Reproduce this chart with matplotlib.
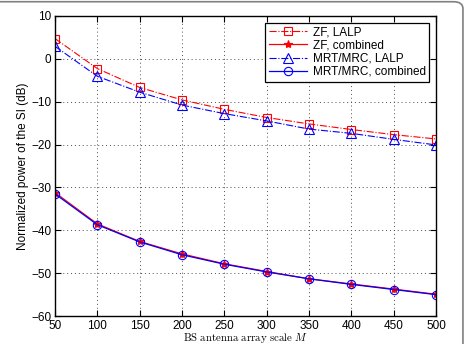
import matplotlib
matplotlib.use("Agg")
import matplotlib.pyplot as plt
from matplotlib.patches import FancyBboxPatch

plt.rcParams['font.family'] = ['Liberation Sans', 'DejaVu Sans']
plt.rcParams['mathtext.fontset'] = 'cm'

# data
M = [50, 100, 150, 200, 250, 300, 350, 400, 450, 500]
zf_lalp = [4.7, -2.3, -6.7, -9.6, -11.8, -13.7, -15.2, -16.5, -17.7, -18.7]
zf_comb = [-31.2, -38.5, -42.6, -45.5, -47.8, -49.6, -51.3, -52.5, -53.7, -54.9]
mrt_lalp = [2.9, -4.1, -7.8, -10.8, -12.8, -14.5, -16.4, -17.4, -18.8, -20.1]
mrt_comb = [-31.5, -38.7, -42.7, -45.7, -47.9, -49.7, -51.3, -52.6, -53.8, -55.0]

fig = plt.figure(figsize=(4.7, 3.44), dpi=100)
ax = fig.add_axes([0.117, 0.081, 0.811, 0.873])

ax.plot(M, zf_lalp, color='red', ls='-.', lw=0.8, marker='s', mfc='none', ms=6, mew=0.8, label='ZF, LALP')
ax.plot(M, zf_comb, color='red', ls='-', lw=0.9, marker='*', ms=6, mew=0.8, label='ZF, combined')
ax.plot(M, mrt_lalp, color='blue', ls='-.', lw=0.8, marker='^', mfc='none', ms=6.5, mew=0.8, label='MRT/MRC, LALP')
ax.plot(M, mrt_comb, color='blue', ls='-', lw=0.9, marker='o', mfc='none', ms=6, mew=0.8, label='MRT/MRC, combined')

ax.set_xlim(50, 500)
ax.set_ylim(-60, 10)
ax.set_xticks(M)
ax.set_yticks(range(-60, 11, 10))
ax.tick_params(direction='in', top=True, right=True, labelsize=8.5, length=4, width=0.8, pad=2.5)
ax.grid(True, ls=(0, (1, 3)), color='0.3', lw=0.7)
for s in ax.spines.values():
    s.set_linewidth(1.0)

ax.set_xlabel(r'$\mathrm{BS\ antenna\ array\ scale}\ M$', fontsize=7.8, labelpad=-0.5)
ax.set_ylabel('Normalized power of the SI (dB)', fontsize=8.5, labelpad=2)

leg = ax.legend(loc='upper right', fontsize=8.5, handlelength=3.2, borderpad=0.3,
                labelspacing=0.1, handletextpad=0.5, fancybox=False, framealpha=1,
                borderaxespad=0.6)
leg.get_frame().set_edgecolor('black')
leg.get_frame().set_linewidth(0.9)

# gray rounded border on the right side of the figure
border = FancyBboxPatch((-0.2, -0.2), 0.985 + 0.2, 1.195, boxstyle='round,pad=0,rounding_size=0.02',
                        transform=fig.transFigure, fill=False, edgecolor='0.5', lw=1.2,
                        clip_on=False)
fig.patches.append(border)

fig.savefig('out.png', dpi=100)
